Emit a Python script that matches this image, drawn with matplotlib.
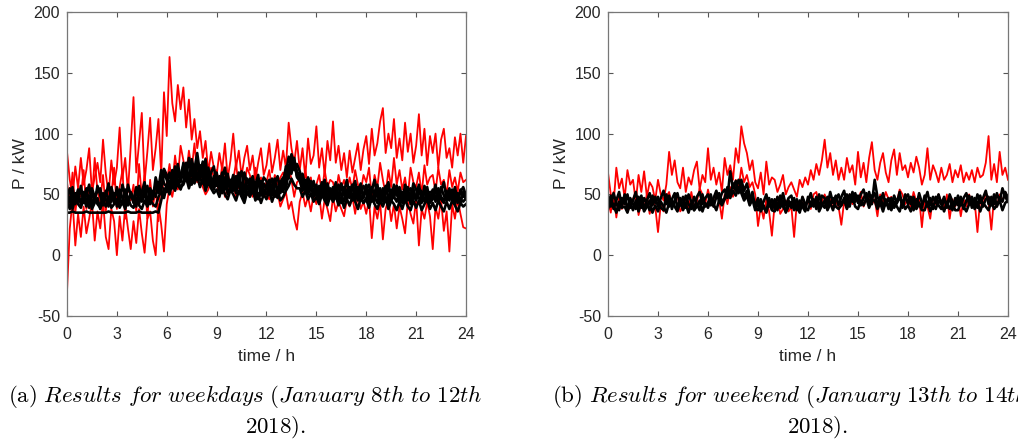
import numpy as np
import matplotlib
matplotlib.use("Agg")
import matplotlib.pyplot as plt

# Power samples every 10 minutes over one day (145 points from 0 h to 24 h)
n_per_hour = 6

# ---- weekdays (January 8th to 12th 2018) ----
weekday_red_high = [
    85, 62, 48, 73, 55, 80,
    58, 70, 88, 52, 64, 76,
    60, 95, 67, 50, 78, 58,
    72, 105, 63, 80, 52, 90,
    130, 68, 92, 117, 60, 85,
    113, 70, 88, 112, 66, 134,
    98, 163, 125, 110, 140, 120,
    138, 105, 128, 95, 112, 88,
    102, 80, 94, 68, 85, 72,
    66, 84, 70, 92, 63, 78,
    100, 72, 86, 65, 80, 90,
    70, 82, 62, 76, 88, 66,
    74, 92, 68, 80, 95, 70,
    86, 72, 109, 88, 76, 94,
    70, 88, 64, 96, 75, 82,
    106, 72, 88, 66, 94, 78,
    110, 76, 90, 70, 84, 64,
    86, 68, 80, 92, 70, 87,
    98, 75, 104, 82, 92, 110,
    121, 84, 100, 88, 112, 80,
    96, 78, 109, 85, 100, 76,
    90, 116, 82, 104, 74, 98,
    84, 100, 72, 95, 104, 80,
    88, 72, 97, 82, 100, 76,
    98,
]
weekday_red_mid = [
    60, 42, 68, 35, 55, 48,
    70, 38, 58, 46, 80, 52,
    44, 66, 36, 58, 49, 72,
    38, 56, 70, 30, 62, 45,
    58, 36, 75, 48, 66, 30,
    62, 40, 55, 28, 70, 48,
    60, 75, 58, 82, 64, 90,
    78, 66, 86, 70, 92, 68,
    74, 62, 80, 58, 72, 64,
    70, 56, 74, 60, 68, 57,
    62, 76, 55, 70, 58, 72,
    66, 56, 72, 58, 64, 55,
    60, 70, 54, 66, 58, 64,
    68, 58, 74, 62, 48, 60,
    62, 52, 70, 56, 64, 48,
    58, 66, 52, 70, 56, 62,
    60, 50, 66, 55, 62, 52,
    64, 54, 70, 58, 52, 66,
    60, 72, 48, 66, 56, 76,
    62, 50, 70, 56, 80, 58,
    70, 54, 64, 48, 72, 60,
    56, 68, 50, 74, 58, 64,
    66, 52, 72, 58, 62, 50,
    70, 56, 64, 52, 68, 60,
    62,
]
weekday_red_low = [
    -30, 22, 45, 8, 34, 15,
    40, 18, 30, 44, 12, 36,
    22, 45, 15, 5, 38, 28,
    0, 32, 12, 40, 22, 5,
    28, 10, 38, 18, 2, 30,
    36, 12, 0, 42, 25, 3,
    42, 56, 48, 62, 54, 66,
    70, 62, 58, 64, 72, 60,
    66, 56, 50, 54, 62, 56,
    60, 50, 64, 48, 55, 52,
    58, 48, 62, 52, 46, 50,
    54, 48, 58, 46, 52, 49,
    50, 46, 55, 48, 52, 40,
    46, 52, 38, 44, 30, 21,
    44, 52, 40, 48, 36, 50,
    42, 50, 30, 46, 38, 28,
    48, 36, 44, 38, 32, 46,
    40, 48, 34, 50, 38, 44,
    34, 46, 14, 40, 30, 44,
    13, 38, 46, 28, 42, 22,
    40, 30, 18, 44, 34, 26,
    46, 8, 38, 30, 44, 32,
    5, 40, 30, 46, 20, 36,
    3, 42, 30, 46, 34, 23,
    22,
]
weekday_black_1 = [
    48, 55, 40, 51, 44, 57,
    43, 50, 58, 41, 48, 53,
    55, 42, 49, 59, 44, 51,
    40, 54, 47, 42, 58, 49,
    45, 56, 42, 52, 60, 44,
    51, 46, 64, 55, 70, 59,
    56, 68, 59, 73, 57, 66,
    74, 62, 80, 65, 71, 84,
    67, 77, 61, 72, 63, 57,
    68, 54, 63, 72, 56, 62,
    53, 65, 58, 49, 68, 59,
    63, 51, 58, 66, 49, 59,
    54, 62, 49, 59, 65, 51,
    58, 67, 81, 72, 78, 69,
    65, 57, 62, 54, 61, 51,
    58, 47, 56, 62, 46, 55,
    50, 60, 45, 56, 52, 62,
    47, 55, 61, 46, 54, 49,
    58, 45, 53, 62, 48, 55,
    46, 54, 60, 44, 52, 57,
    50, 43, 58, 52, 46, 59,
    54, 47, 43, 57, 50, 45,
    49, 58, 44, 53, 60, 46,
    55, 45, 51, 43, 54, 48,
    51,
]
weekday_black_2 = [
    44, 38, 51, 46, 54, 41,
    52, 45, 39, 55, 48, 42,
    39, 51, 46, 40, 56, 47,
    53, 43, 58, 49, 41, 52,
    47, 40, 54, 44, 49, 57,
    42, 53, 48, 60, 53, 68,
    62, 54, 70, 59, 75, 63,
    65, 76, 59, 79, 69, 62,
    74, 64, 79, 59, 68, 73,
    57, 65, 51, 60, 67, 53,
    62, 54, 68, 56, 52, 63,
    55, 62, 48, 58, 61, 52,
    50, 58, 63, 52, 47, 60,
    64, 54, 69, 79, 70, 75,
    69, 61, 54, 64, 56, 61,
    49, 57, 51, 46, 59, 50,
    56, 47, 58, 49, 44, 54,
    53, 58, 45, 56, 49, 43,
    47, 54, 44, 52, 58, 45,
    55, 48, 43, 53, 47, 57,
    44, 52, 47, 56, 42, 51,
    46, 55, 52, 44, 53, 47,
    54, 44, 51, 46, 43, 53,
    45, 53, 42, 51, 46, 44,
    47,
]
weekday_black_3 = [
    35, 35, 36, 35, 35, 35,
    35, 36, 35, 35, 35, 35,
    35, 35, 35, 36, 35, 35,
    35, 35, 35, 35, 36, 35,
    35, 35, 36, 35, 35, 35,
    35, 35, 36, 35, 45, 55,
    52, 61, 55, 65, 58, 54,
    61, 71, 64, 58, 73, 67,
    62, 71, 57, 67, 60, 54,
    62, 53, 58, 64, 50, 57,
    59, 51, 61, 55, 46, 57,
    51, 59, 54, 46, 56, 49,
    58, 50, 56, 48, 55, 61,
    52, 61, 74, 67, 80, 64,
    61, 53, 59, 50, 57, 48,
    54, 46, 52, 57, 44, 53,
    47, 54, 50, 43, 56, 48,
    56, 48, 53, 45, 51, 57,
    52, 44, 56, 48, 43, 53,
    50, 57, 46, 54, 48, 44,
    53, 46, 54, 45, 50, 55,
    45, 53, 48, 54, 46, 52,
    52, 46, 55, 48, 45, 51,
    47, 54, 45, 51, 43, 52,
    46,
]
weekday_black_4 = [
    50, 45, 56, 42, 49, 53,
    46, 55, 43, 51, 44, 57,
    49, 41, 53, 45, 52, 43,
    56, 47, 42, 54, 45, 51,
    43, 51, 57, 46, 54, 41,
    55, 48, 58, 51, 64, 71,
    66, 57, 64, 55, 68, 60,
    76, 67, 63, 74, 61, 77,
    63, 59, 71, 66, 56, 65,
    64, 58, 68, 54, 63, 57,
    66, 56, 63, 69, 54, 61,
    58, 65, 54, 62, 56, 64,
    61, 53, 58, 63, 50, 57,
    60, 73, 63, 83, 75, 65,
    63, 67, 57, 63, 53, 58,
    56, 51, 60, 49, 56, 47,
    54, 57, 47, 59, 50, 46,
    51, 45, 56, 52, 59, 47,
    54, 58, 47, 45, 56, 49,
    44, 52, 55, 47, 58, 49,
    56, 48, 44, 52, 55, 46,
    49, 58, 45, 51, 56, 43,
    46, 53, 48, 56, 49, 45,
    51, 47, 56, 45, 52, 56,
    49,
]
weekday_black_5 = [
    41, 46, 38, 48, 42, 39,
    47, 40, 49, 38, 43, 47,
    38, 45, 40, 48, 39, 42,
    46, 39, 44, 38, 47, 41,
    39, 47, 41, 38, 45, 40,
    46, 42, 40, 48, 52, 47,
    57, 50, 59, 53, 61, 56,
    58, 64, 55, 63, 59, 65,
    56, 63, 53, 60, 55, 51,
    54, 48, 57, 50, 46, 54,
    50, 45, 53, 48, 43, 52,
    48, 54, 45, 51, 43, 50,
    46, 53, 44, 51, 54, 45,
    48, 53, 57, 63, 58, 55,
    55, 48, 53, 46, 51, 44,
    48, 42, 50, 45, 41, 49,
    44, 49, 41, 47, 39, 46,
    41, 48, 44, 38, 47, 43,
    46, 39, 48, 42, 38, 45,
    40, 47, 38, 45, 42, 37,
    44, 38, 46, 40, 37, 45,
    39, 45, 37, 42, 46, 38,
    43, 37, 45, 40, 36, 44,
    38, 45, 41, 36, 43, 40,
    42,
]

# ---- weekend (January 13th to 14th 2018) ----
weekend_red_high = [
    68, 50, 42, 72, 55, 63,
    47, 70, 58, 62, 44, 66,
    52, 69, 48, 60, 56, 45,
    62, 50, 45, 58, 85, 66,
    78, 60, 55, 72, 52, 64,
    58, 70, 77, 54, 66, 60,
    88, 62, 72, 58, 68, 52,
    80, 66, 74, 62, 88, 76,
    106, 92, 84, 70, 78, 60,
    55, 68, 50, 77, 58, 64,
    62, 52, 58, 66, 50, 56,
    60, 54, 48, 62, 56, 64,
    58, 70, 62, 75, 66, 78,
    95, 72, 84, 66, 78, 62,
    72, 62, 80, 68, 74, 58,
    85, 64, 76, 60, 80, 93,
    70, 62, 76, 84, 68, 60,
    78, 87, 66, 84, 70, 74,
    64, 76, 68, 81, 72, 58,
    66, 88, 62, 74, 68, 60,
    72, 62, 66, 75, 60, 70,
    64, 74, 60, 68, 62, 70,
    60, 72, 64, 66, 76, 98,
    62, 75, 60, 85, 66, 72,
    62,
]
weekend_red_low = [
    45, 35, 52, 31, 48, 38,
    50, 36, 40, 46, 52, 33,
    44, 38, 50, 34, 45, 40,
    19, 42, 36, 48, 52, 40,
    44, 50, 36, 40, 48, 38,
    52, 40, 44, 55, 50, 42,
    54, 44, 40, 50, 46, 30,
    50, 42, 56, 48, 62, 55,
    72, 60, 66, 56, 60, 50,
    24, 40, 30, 46, 36, 16,
    42, 48, 34, 38, 45, 36,
    40, 15, 44, 36, 48, 40,
    46, 38, 50, 52, 42, 44,
    50, 42, 46, 38, 44, 40,
    25, 44, 38, 50, 42, 48,
    44, 52, 40, 46, 48, 42,
    46, 32, 50, 44, 52, 46,
    48, 40, 44, 54, 50, 42,
    46, 40, 52, 44, 48, 23,
    46, 40, 30, 48, 42, 50,
    44, 38, 50, 30, 46, 40,
    48, 32, 46, 40, 50, 42,
    44, 19, 46, 40, 52, 44,
    21, 48, 40, 50, 44, 52,
    46,
]
weekend_black_1 = [
    48, 40, 51, 43, 37, 47,
    42, 50, 39, 45, 52, 41,
    49, 38, 45, 51, 41, 48,
    40, 47, 53, 42, 49, 38,
    45, 51, 41, 48, 39, 50,
    44, 37, 48, 52, 42, 47,
    50, 41, 47, 53, 44, 51,
    54, 47, 69, 55, 61, 51,
    62, 53, 59, 49, 47, 41,
    47, 39, 44, 50, 40, 46,
    38, 48, 42, 51, 41, 47,
    49, 40, 46, 38, 48, 42,
    44, 51, 41, 48, 39, 49,
    47, 40, 52, 43, 49, 41,
    48, 53, 42, 50, 44, 51,
    43, 50, 54, 45, 52, 42,
    62, 48, 43, 51, 41, 47,
    40, 49, 43, 52, 39, 47,
    50, 42, 48, 40, 51, 43,
    45, 52, 41, 48, 43, 50,
    42, 48, 39, 50, 44, 41,
    49, 41, 47, 51, 42, 48,
    40, 50, 43, 47, 53, 42,
    48, 42, 51, 44, 55, 48,
    44,
]
weekend_black_2 = [
    42, 49, 38, 45, 52, 40,
    50, 37, 47, 42, 38, 48,
    39, 47, 42, 37, 49, 43,
    48, 39, 37, 50, 40, 46,
    51, 38, 47, 40, 49, 42,
    38, 48, 42, 37, 50, 40,
    43, 50, 40, 48, 51, 44,
    47, 56, 50, 59, 53, 62,
    56, 48, 53, 44, 52, 39,
    37, 46, 39, 36, 47, 38,
    46, 37, 49, 40, 36, 45,
    39, 47, 37, 45, 40, 36,
    48, 40, 46, 38, 50, 42,
    39, 48, 43, 37, 46, 50,
    41, 47, 50, 40, 52, 44,
    49, 41, 47, 51, 42, 49,
    51, 41, 48, 40, 46, 38,
    47, 39, 43, 48, 41, 50,
    42, 48, 37, 46, 43, 39,
    49, 40, 47, 38, 48, 41,
    38, 46, 41, 48, 37, 47,
    41, 48, 38, 45, 49, 39,
    47, 39, 49, 40, 46, 48,
    41, 50, 40, 47, 44, 52,
    47,
]
weekend_black_3 = [
    38, 45, 41, 35, 44, 39,
    40, 35, 43, 37, 45, 36,
    44, 36, 40, 45, 35, 41,
    36, 44, 40, 35, 43, 45,
    40, 36, 44, 37, 42, 35,
    43, 37, 40, 45, 36, 43,
    39, 46, 42, 37, 45, 41,
    46, 51, 47, 53, 49, 56,
    51, 45, 49, 41, 46, 37,
    43, 36, 41, 35, 44, 37,
    36, 43, 39, 45, 35, 40,
    44, 37, 41, 35, 43, 39,
    37, 44, 40, 46, 36, 41,
    45, 37, 42, 47, 40, 38,
    41, 46, 38, 44, 48, 40,
    38, 45, 41, 47, 39, 45,
    45, 38, 43, 36, 44, 41,
    37, 44, 40, 36, 45, 38,
    41, 36, 44, 38, 42, 37,
    37, 44, 36, 42, 38, 45,
    42, 36, 44, 38, 43, 37,
    37, 43, 40, 36, 42, 45,
    38, 44, 36, 43, 40, 37,
    44, 38, 41, 45, 37, 43,
    45,
]

x_ticks = [0, 3, 6, 9, 12, 15, 18, 21, 24]
y_ticks = [-50, 0, 50, 100, 150, 200]

plt.rcParams["font.family"] = ["Liberation Sans", "DejaVu Sans"]
plt.rcParams["mathtext.fontset"] = "cm"
plt.rcParams["axes.unicode_minus"] = False

fig = plt.figure(figsize=(10.18, 4.44), dpi=100)
W, H = 1018, 444
ax_a = fig.add_axes([67 / W, 1 - 316 / H, (466 - 67) / W, (316 - 12) / H])
ax_b = fig.add_axes([608 / W, 1 - 316 / H, (1008 - 608) / W, (316 - 12) / H])

panels = [
    (ax_a, [weekday_red_high, weekday_red_mid, weekday_red_low],
     [weekday_black_1, weekday_black_2, weekday_black_3,
      weekday_black_4, weekday_black_5]),
    (ax_b, [weekend_red_high, weekend_red_low],
     [weekend_black_1, weekend_black_2, weekend_black_3]),
]

for ax, reds, blacks in panels:
    for s in reds:
        t = np.arange(len(s)) / n_per_hour
        ax.plot(t, s, color="#ff0000", lw=1.3)
    for s in blacks:
        t = np.arange(len(s)) / n_per_hour
        ax.plot(t, s, color="black", lw=1.9)
    ax.set_xlim(0, 24)
    ax.set_ylim(-50, 200)
    ax.set_xticks(x_ticks)
    ax.set_yticks(y_ticks)
    ax.tick_params(direction="in", length=3.5, width=0.8, colors="#555555",
                   labelcolor="#262626", labelsize=11.5,
                   top=True, right=True)
    ax.tick_params(axis="x", pad=8)
    ax.tick_params(axis="y", pad=5)
    for sp in ax.spines.values():
        sp.set_color("#777777")
        sp.set_linewidth(0.9)
    ax.set_xlabel("time / h", fontsize=12.5, color="#262626", labelpad=5)
    ax.set_ylabel("P / kW", fontsize=12.5, color="#262626", labelpad=4)

# Sub-figure captions (second line wraps under the first)
cap_size = 16.5
line1_y = 1 - 396 / H
line2_y = 1 - 427 / H
fig.text(8 / W, line1_y,
         r"$\mathrm{(a)}\ \mathit{Results\ for\ weekdays\ (January\ 8th\ to\ 12th}$",
         fontsize=cap_size, va="center", ha="left")
fig.text(245 / W, line2_y, r"$\mathit{2018).}$",
         fontsize=cap_size, va="center", ha="left")
fig.text(552 / W, line1_y,
         r"$\mathrm{(b)}\ \mathit{Results\ for\ weekend\ (January\ 13th\ to\ 14th}$",
         fontsize=cap_size, va="center", ha="left")
fig.text(787 / W, line2_y, r"$\mathit{2018).}$",
         fontsize=cap_size, va="center", ha="left")

fig.savefig("out.png", dpi=100)
